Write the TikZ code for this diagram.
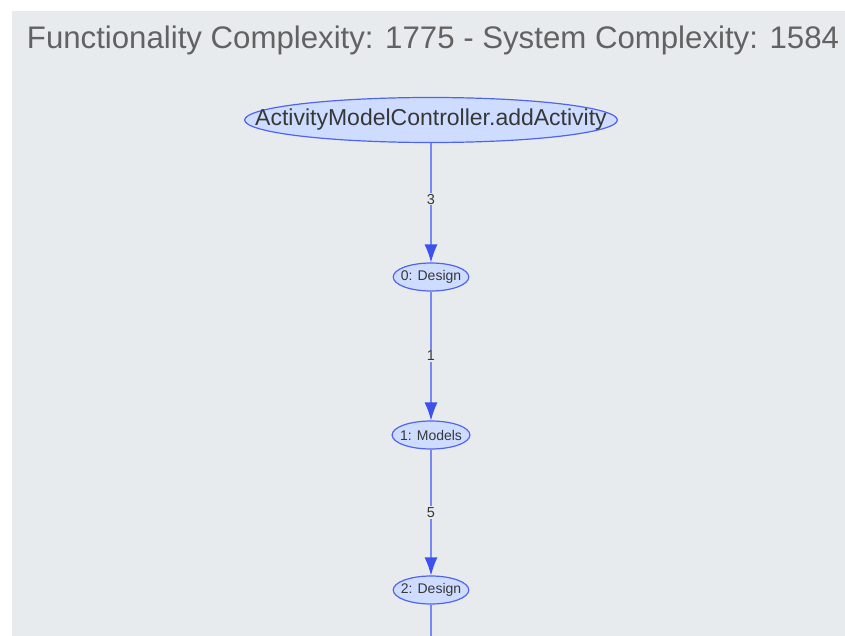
\documentclass[tikz,border=0pt]{standalone}
\usepackage{fontspec}
\setmainfont{Liberation Sans}
\usepackage{tikz}
\usetikzlibrary{shapes.geometric,arrows.meta}

\definecolor{bggray}{RGB}{232,235,238}
\definecolor{titlegray}{RGB}{98,98,98}
\definecolor{nodefill}{RGB}{206,220,255}
\definecolor{nodeline}{RGB}{80,100,240}
\definecolor{edgeline}{RGB}{118,136,242}
\definecolor{tipblue}{RGB}{60,82,236}
\definecolor{labelgray}{RGB}{55,55,55}

\tikzset{
  callnode/.style={draw=nodeline, fill=nodefill, ellipse, inner xsep=-3.5pt, inner ysep=2pt,
    line width=1.2pt, minimum height=28pt, text=labelgray, font=\fontsize{14}{16}\selectfont},
  rootnode/.style={callnode, inner xsep=-44pt, minimum height=45pt, font=\fontsize{23}{26}\selectfont},
  calledge/.style={draw=edgeline, line width=1.2pt,
    -{Latex[length=18pt,width=13pt,color=tipblue]}},
  weight/.style={fill=bggray, inner sep=1pt, text=labelgray, font=\fontsize{14.5}{16}\selectfont}
}

\begin{document}
\begin{tikzpicture}[x=1pt, y=-1pt]
      \fill[white] (0,0) rectangle (845,636);
      \useasboundingbox (0,0) rectangle (845,636);
      \fill[bggray] (12,11) rectangle (845,636);
      \node (title) at (433,40) [text=titlegray, font=\fontsize{31.2}{34}\selectfont] {Functionality Complexity: 1775 - System Complexity: 1584};

      % call chain
      \node (root) at (431,120) [rootnode] {ActivityModelController.addActivity};
      \node (d0) at (431,277) [callnode] {0: Design};
      \node (m1) at (431,435) [callnode] {1: Models};
      \node (d2) at (431,590) [callnode] {2: Design};
      \coordinate (down) at (431,640);

      \draw[calledge] (root) to node[pos=.47, weight] (w3) {3} (d0);
      \draw[calledge] (d0) to node[pos=.5, weight] (w1) {1} (m1);
      \draw[calledge] (m1) to node[pos=.5, weight] (w5) {5} (d2);
      \draw[draw=edgeline, line width=1.2pt] (d2) to (down);
    \end{tikzpicture}
\end{document}
